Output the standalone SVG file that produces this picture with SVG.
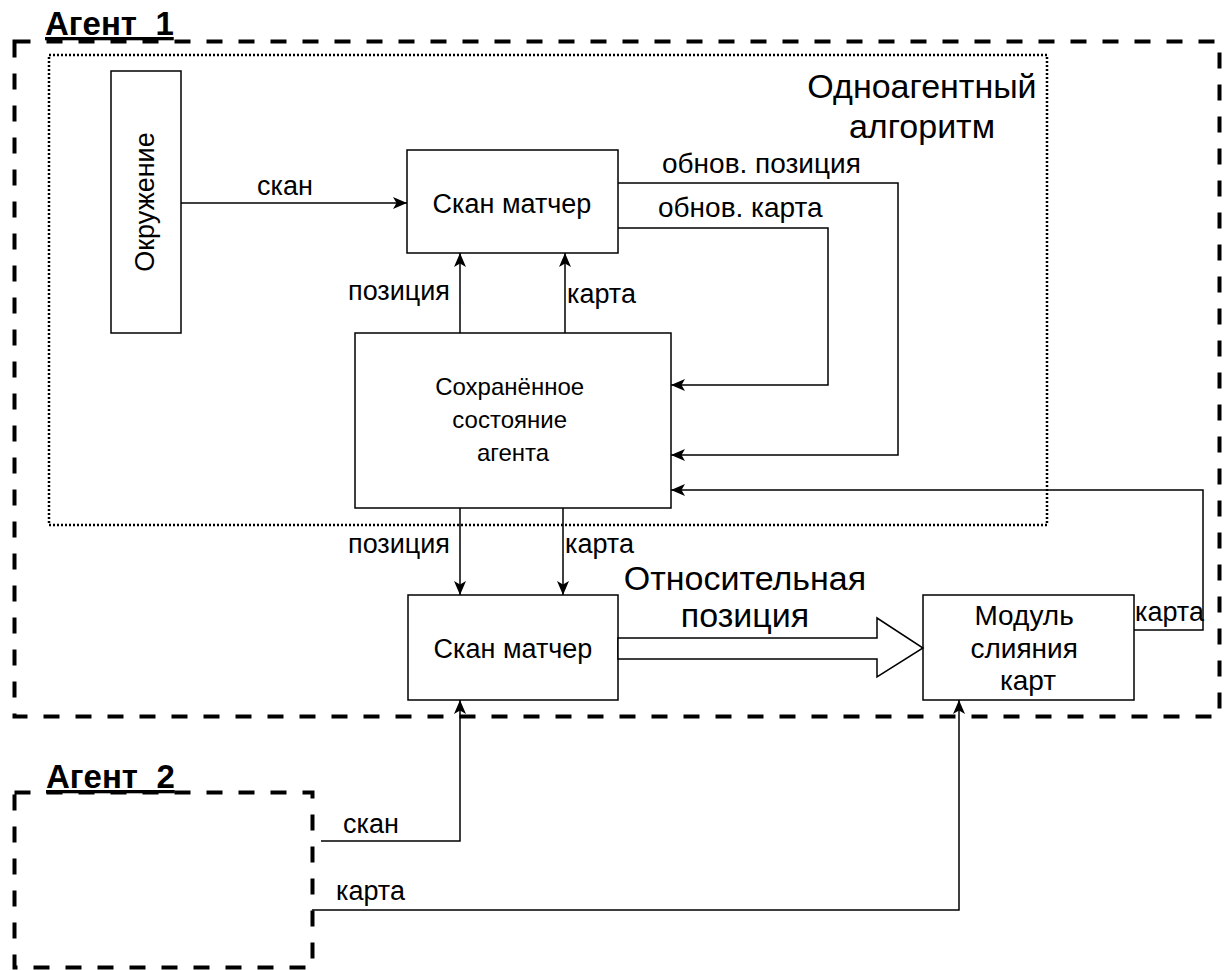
<svg xmlns="http://www.w3.org/2000/svg" width="1227" height="970" viewBox="0 0 1227 970">
  <defs>
    <style>
      .txt { font-family: "Liberation Sans", Arial, sans-serif; fill: #000; }
      .box { fill: #fff; stroke: #000; stroke-width: 1.5; }
      .agent { fill: none; stroke: #000; stroke-width: 4; stroke-dasharray: 16 16; }
      .algo { fill: none; stroke: #000; stroke-width: 2.5; stroke-dasharray: 2 2; }
      .wire { fill: none; stroke: #000; stroke-width: 1.5; }
      .lbl { font-size: 27px; }
      .big { font-size: 34px; }
      .title { font-size: 33px; font-weight: bold; text-decoration: underline; }
    </style>
    <marker id="arrow" markerUnits="userSpaceOnUse" markerWidth="15" markerHeight="13" refX="14" refY="6" orient="auto">
      <path d="M0,0 L14,6 L0,12 L3.5,6 z" fill="#000"/>
    </marker>
  </defs>

  <rect width="1227" height="970" fill="#fff"/>

  <!-- Agent 1 container -->
  <g id="agent1">
    <rect class="agent" x="14.5" y="41.5" width="1205" height="675"/>
    <text class="txt title" x="45" y="35">Агент_1</text>
  </g>

  <!-- Single-agent algorithm boundary -->
  <g id="single-agent">
    <rect class="algo" x="49" y="55" width="998" height="470"/>
    <text class="txt big" x="922" y="98" text-anchor="middle">Одноагентный</text>
    <text class="txt big" x="922" y="138" text-anchor="middle">алгоритм</text>
  </g>

  <!-- Agent 2 container -->
  <g id="agent2">
    <rect class="agent" x="14.5" y="792.5" width="298" height="175"/>
    <text class="txt title" x="46" y="788">Агент_2</text>
  </g>

  <g id="environment">
    <rect class="box" x="111" y="71" width="70" height="262"/>
    <text class="txt" font-size="27" transform="translate(154 202) rotate(-90)" text-anchor="middle">Окружение</text>
  </g>

  <g id="scan-matcher-1">
    <rect class="box" x="407" y="150" width="211" height="103"/>
    <text class="txt" font-size="27" x="512" y="213" text-anchor="middle">Скан матчер</text>
  </g>

  <g id="saved-state">
    <rect class="box" x="355" y="333" width="316" height="175"/>
    <text class="txt" font-size="24" text-anchor="middle">
      <tspan x="513" y="395">Сохранённое</tspan>
      <tspan x="513" y="428">состояние</tspan>
      <tspan x="513" y="461">агента</tspan>
    </text>
  </g>

  <g id="scan-matcher-2">
    <rect class="box" x="408" y="595" width="210" height="105"/>
    <text class="txt" font-size="27" x="513" y="658" text-anchor="middle">Скан матчер</text>
  </g>

  <g id="map-merge">
    <rect class="box" x="923" y="595" width="211" height="105"/>
    <text class="txt" font-size="28" text-anchor="middle">
      <tspan x="1028" y="625">Модуль</tspan>
      <tspan x="1028" y="658">слияния</tspan>
      <tspan x="1028" y="690">карт</tspan>
    </text>
  </g>

  <!-- Connectors -->
  <g id="connectors">
    <path class="wire" d="M181,203 H407" marker-end="url(#arrow)"/>
    <path class="wire" d="M460,333 V253" marker-end="url(#arrow)"/>
    <path class="wire" d="M565,333 V253" marker-end="url(#arrow)"/>
    <path class="wire" d="M618,183 H898 V455 H671" marker-end="url(#arrow)"/>
    <path class="wire" d="M618,228 H828 V385 H671" marker-end="url(#arrow)"/>
    <path class="wire" d="M1134,630 H1203 V490 H671" marker-end="url(#arrow)"/>
    <path class="wire" d="M460,508 V595" marker-end="url(#arrow)"/>
    <path class="wire" d="M563,508 V595" marker-end="url(#arrow)"/>
    <path class="wire" d="M321,841 H460 V700" marker-end="url(#arrow)"/>
    <path class="wire" d="M312,910 H959 V700" marker-end="url(#arrow)"/>
    <!-- relative pose: hollow block arrow -->
    <polygon points="618,638 877,638 877,618 923,648 877,677 877,659 618,659" fill="#fff" stroke="#000" stroke-width="1.5"/>

    <text class="txt lbl" x="257" y="195">скан</text>
    <text class="txt lbl" x="450" y="300" text-anchor="end">позиция</text>
    <text class="txt lbl" x="567" y="303">карта</text>
    <text class="txt" font-size="28" x="662" y="173">обнов. позиция</text>
    <text class="txt" font-size="28" x="658" y="217">обнов. карта</text>
    <text class="txt lbl" x="450" y="553" text-anchor="end">позиция</text>
    <text class="txt lbl" x="565" y="553">карта</text>
    <text class="txt big" x="745" y="590" text-anchor="middle">Относительная</text>
    <text class="txt big" x="745" y="627" text-anchor="middle">позиция</text>
    <text class="txt lbl" x="1135" y="621">карта</text>
    <text class="txt lbl" x="343" y="833">скан</text>
    <text class="txt lbl" x="336" y="900">карта</text>
  </g>
</svg>
